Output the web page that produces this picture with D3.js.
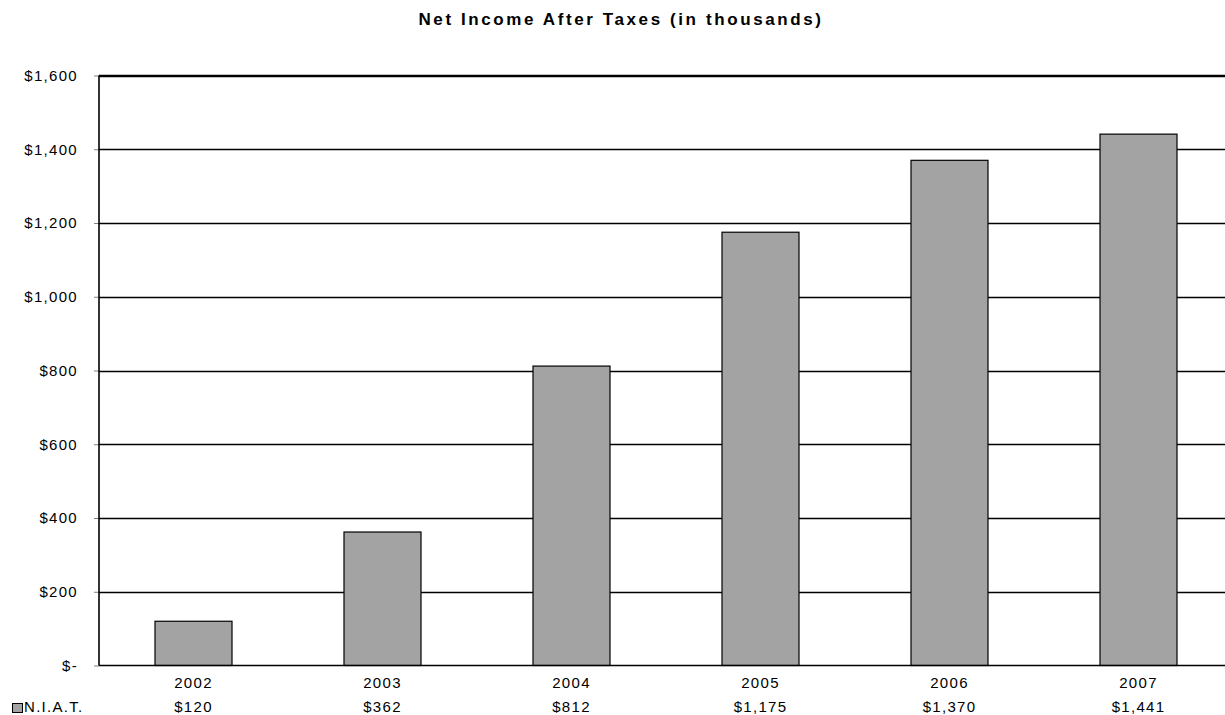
<!DOCTYPE html>
<html>
<head>
<meta charset="utf-8">
<script src="https://cdn.jsdelivr.net/npm/d3@7"></script>
<style>
html,body{margin:0;padding:0;background:#fff;overflow:hidden;}
svg{display:block;}
</style>
</head>
<body>
<svg id="chart" width="1225" height="715"></svg>
<script>
const title = "Net Income After Taxes (in thousands)";
const categories = ["2002", "2003", "2004", "2005", "2006", "2007"];
const seriesName = "N.I.A.T.";
const values = [120, 362, 812, 1175, 1370, 1441];
const yTicks = [0, 200, 400, 600, 800, 1000, 1200, 1400, 1600];

const svg = d3.select("#chart");
const margin = {left: 99, top: 75.5, right: 1233, bottom: 665.5};
const font = "'Liberation Sans', Arial, sans-serif";

const x = d3.scaleBand().domain(categories).range([margin.left, margin.right]).paddingInner(0).paddingOuter(0);
const y = d3.scaleLinear().domain([0, 1600]).range([margin.bottom, margin.top]);

const fmt = v => v === 0 ? "$-" : "$" + d3.format(",")(v);

// title
svg.append("text")
  .attr("x", 621).attr("y", 25)
  .attr("text-anchor", "middle")
  .style("font-family", font).style("font-weight", "bold").style("font-size", "17px")
  .style("letter-spacing", "2.6px")
  .text(title);

// gridlines
svg.append("g").selectAll("line").data(yTicks.filter(d => d > 0)).join("line")
  .attr("x1", margin.left).attr("x2", margin.right)
  .attr("y1", d => Math.round(y(d)) + 0.5).attr("y2", d => Math.round(y(d)) + 0.5)
  .attr("stroke", "#000").attr("stroke-width", 1.4);

// y axis
const yAxis = d3.axisLeft(y).tickValues(yTicks).tickFormat(fmt).tickSize(5).tickPadding(16);
const gy = svg.append("g").attr("transform", `translate(${margin.left},0)`).call(yAxis);
gy.select(".domain").remove();
gy.selectAll(".tick line").attr("stroke", "#808080");
gy.selectAll(".tick text")
  .style("font-family", font).style("font-size", "15px").style("letter-spacing", "1.3px")
  .attr("fill", "#000");

// bars
const barW = 77;
svg.append("g").selectAll("rect").data(values).join("rect")
  .attr("x", (d, i) => x(categories[i]) + x.bandwidth() / 2 - barW / 2)
  .attr("y", d => y(d))
  .attr("width", barW)
  .attr("height", d => y(0) - y(d))
  .attr("fill", "#a3a3a4")
  .attr("stroke", "#000").attr("stroke-width", 1.2);

// axes lines
svg.append("line").attr("x1", margin.left).attr("x2", margin.left)
  .attr("y1", margin.top).attr("y2", margin.bottom).attr("stroke", "#000").attr("stroke-width", 1.6);
svg.append("line").attr("x1", margin.left).attr("x2", margin.right)
  .attr("y1", margin.bottom).attr("y2", margin.bottom).attr("stroke", "#000").attr("stroke-width", 1.6);
svg.append("line").attr("x1", margin.left).attr("x2", margin.right)
  .attr("y1", margin.top).attr("y2", margin.top).attr("stroke", "#000").attr("stroke-width", 1.6);

// x axis category labels
const xAxis = d3.axisBottom(x).tickSize(0).tickPadding(12);
const gx = svg.append("g").attr("transform", `translate(0,${margin.bottom})`).call(xAxis);
gx.select(".domain").remove();
gx.selectAll(".tick text")
  .style("font-family", font).style("font-size", "15px").style("letter-spacing", "1.3px")
  .attr("fill", "#000");

// data table row
svg.append("g").selectAll("text").data(values).join("text")
  .attr("x", (d, i) => x(categories[i]) + x.bandwidth() / 2)
  .attr("y", 712)
  .attr("text-anchor", "middle")
  .style("font-family", font).style("font-size", "15px").style("letter-spacing", "1.3px")
  .text(d => fmt(d));

// legend key
svg.append("rect").attr("x", 12.5).attr("y", 703.5).attr("width", 10).attr("height", 9)
  .attr("fill", "#a3a3a4").attr("stroke", "#000").attr("stroke-width", 1);
svg.append("text").attr("x", 24).attr("y", 712)
  .style("font-family", font).style("font-size", "15px").style("letter-spacing", "1.3px")
  .text(seriesName);
</script>
</body>
</html>
